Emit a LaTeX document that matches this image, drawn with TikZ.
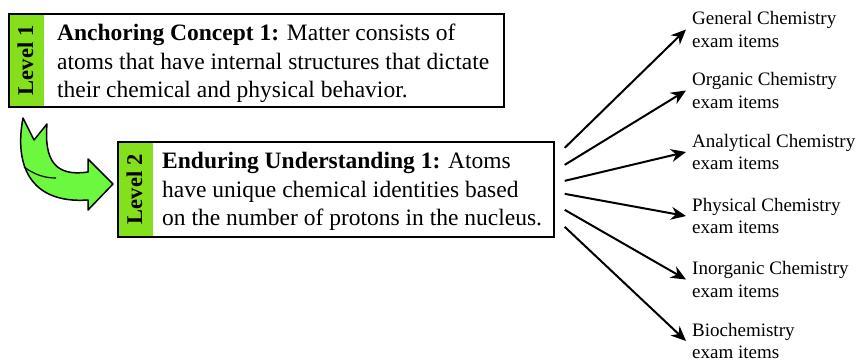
\documentclass[tikz,border=0pt]{standalone}
\usepackage{fontspec}
\setmainfont{Liberation Serif}
\usepackage{tikz}
\usetikzlibrary{positioning,arrows.meta,calc}
\definecolor{greenStrip}{HTML}{84E01C}
\definecolor{greenLite}{HTML}{6CF83E}

\begin{document}
\begin{tikzpicture}[x=1pt,y=-1pt,
    levelbox/.style={draw=black,line width=1.7pt,fill=white,anchor=north west,inner sep=0pt,
      path picture={\fill[greenStrip] (path picture bounding box.north west)
        rectangle ([xshift=35pt]path picture bounding box.south west);}},
    boxtext/.style={anchor=north west,inner sep=0pt,align=left,
      font=\fontsize{23.5}{28.5}\selectfont},
    examtext/.style={anchor=west,inner xsep=6pt,align=left,
      font=\fontsize{19}{22.5}\selectfont},
    fanarrow/.style={-{Stealth[length=15pt,width=13pt]},line width=2pt}]
    \useasboundingbox (0,0) rectangle (864,362);
    % the two levels
    \node[levelbox,minimum width=495pt,minimum height=93pt] (concept) at (8,13) {};
    \node[rotate=90,font=\fontsize{22.5}{26}\bfseries] (levelA) at ([xshift=17.5pt]concept.west) {Level 1};
    \node[boxtext] (conceptText) at (57,24)
      {\textbf{Anchoring Concept 1:} Matter consists of\\atoms that have internal structures that dictate\\their chemical and physical behavior.};
    \node[levelbox,minimum width=436pt,minimum height=95pt] (understanding) at (117,141) {};
    \node[rotate=90,font=\fontsize{22.5}{26}\bfseries] (levelB) at ([xshift=17.5pt]understanding.west) {Level 2};
    \node[boxtext] (understandingText) at (162,152)
      {\textbf{Enduring Understanding 1:} Atoms\\have unique chemical identities based\\on the number of protons in the nucleus.};
    % curved green arrow between the levels
    \draw[fill=greenLite,line width=1.5pt,line join=round]
      (23,118) .. controls (14,165) and (30,204) .. (88,200) -- (88,210) -- (113,184)
      -- (88,159) -- (88,172) .. controls (55,177) and (44,160) .. (47,124) -- (34,140) -- cycle;
    \draw[line width=1.2pt] (24,167) .. controls (35,175) and (45,178) .. (56,178);
    % exam items
    \node[examtext] (general) at (686,29.5) {General Chemistry\\exam items};
    \node[examtext] (organic) at (686,90.5) {Organic Chemistry\\exam items};
    \node[examtext] (analytical) at (686,152) {Analytical Chemistry\\exam items};
    \node[examtext] (physical) at (686,216) {Physical Chemistry\\exam items};
    \node[examtext] (inorganic) at (686,279.5) {Inorganic Chemistry\\exam items};
    \node[examtext] (biochem) at (686,341) {Biochemistry\\exam items};
    \draw[fanarrow] ([xshift=10pt,yshift=41.5pt]understanding.east) -- (general.west);
    \draw[fanarrow] ([xshift=10pt,yshift=24.5pt]understanding.east) -- (organic.west);
    \draw[fanarrow] ([xshift=10pt,yshift=8.5pt]understanding.east) -- (analytical.west);
    \draw[fanarrow] ([xshift=10pt,yshift=-4.5pt]understanding.east) -- (physical.west);
    \draw[fanarrow] ([xshift=10pt,yshift=-20.5pt]understanding.east) -- (inorganic.west);
    \draw[fanarrow] ([xshift=10pt,yshift=-37.5pt]understanding.east) -- (biochem.west);
  \end{tikzpicture}
\end{document}
